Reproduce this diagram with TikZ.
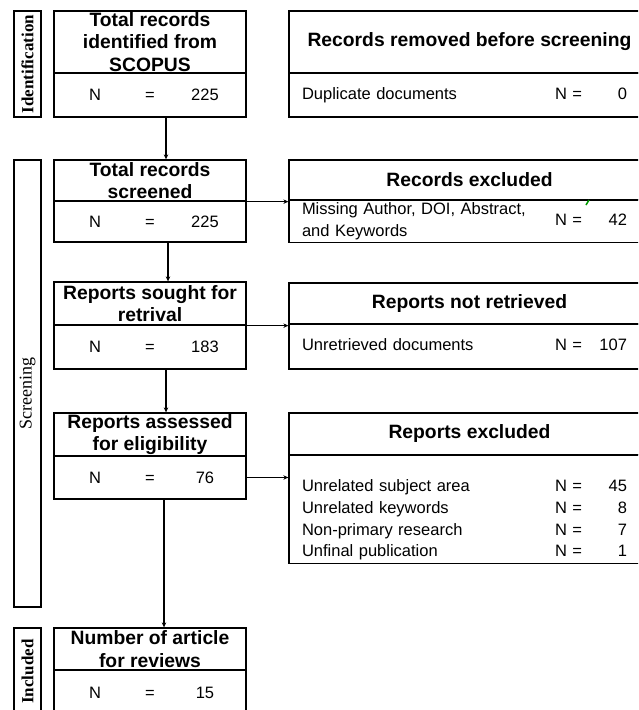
\documentclass[tikz,border=0pt]{standalone}
\usepackage{fontspec}
\setmainfont{Liberation Sans}
\newfontfamily\sidefont{Liberation Serif}
\usepackage{array}
\usetikzlibrary{arrows.meta}
\tikzset{
  titlebox/.style={draw, line width=1.3pt, inner sep=0pt, align=center, font=\fontsize{19.3}{22.5}\selectfont\bfseries},
  countbox/.style={draw, line width=1.3pt, inner sep=0pt, font=\fontsize{16.5}{21.7}\selectfont},
  listbox/.style={countbox, minimum width=361pt, text width=335pt, align=left},
  sidebox/.style={draw, line width=1.3pt, inner sep=0pt, rotate=90, minimum height=27pt, font=\sidefont\fontsize{17}{20}\selectfont},
  flow/.style={line width=1.4pt, -{Stealth[length=5pt,width=4.5pt]}}
}
\newcommand{\countrow}[1]{\makebox[110pt]{\makebox[0pt]{N}\hfill\makebox[0pt]{=}\hfill\makebox[0pt]{#1}}}
\newcommand{\listtab}[1]{\noindent\begin{tabular}{@{}>{\raggedright\arraybackslash}m{253pt}@{}m{30pt}@{}>{\raggedleft\arraybackslash}m{42pt}@{}}#1\end{tabular}}

\begin{document}
\begin{tikzpicture}[x=1pt,y=-1pt]
  \useasboundingbox (0,0) rectangle (638,710);
  \clip (0,0) rectangle (638,710);
  \node[sidebox, minimum width=106pt, font=\sidefont\fontsize{17}{20}\selectfont\bfseries] (idside) at (27.5,64) {Identification};
  \node[sidebox, minimum width=447pt, font=\sidefont\fontsize{18}{20}\selectfont] (scrside) at (27.5,383.5) {Screening\kern20pt};
  \node[sidebox, minimum width=87pt, font=\sidefont\fontsize{17}{20}\selectfont\bfseries] (incside) at (27.5,671.5) {Included};

  \node[titlebox, minimum width=192pt, minimum height=62pt] (t1) at (150,42) {Total records\\identified from\\SCOPUS};
  \node[countbox, minimum width=192pt, minimum height=44pt] (c1) at (150,95) {\countrow{225}};
  \node[titlebox, minimum width=192pt, minimum height=41pt] (t2) at (150,180.5) {Total records\\screened};
  \node[countbox, minimum width=192pt, minimum height=41pt] (c2) at (150,221.5) {\countrow{225}};
  \node[titlebox, minimum width=192pt, minimum height=43pt] (t3) at (150,303.5) {Reports sought for\\retrival};
  \node[countbox, minimum width=192pt, minimum height=44pt] (c3) at (150,347) {\countrow{183}};
  \node[titlebox, minimum width=192pt, minimum height=43pt] (t4) at (150,434.5) {Reports assessed\\for eligibility};
  \node[countbox, minimum width=192pt, minimum height=43pt] (c4) at (150,477.5) {\countrow{76}};
  \node[titlebox, minimum width=192pt, minimum height=42pt] (t5) at (150,649) {Number of article\\for reviews};
  \node[countbox, minimum width=192pt, minimum height=45pt] (c5) at (150,692.5) {\countrow{15}};

  \node[titlebox, minimum width=361pt, minimum height=62pt] (r1t) at (469.5,42) {Records removed before screening};
  \node[listbox, minimum height=44pt] (r1b) at (469.5,95) {\listtab{Duplicate documents & N = & 0}};
  \node[titlebox, minimum width=361pt, minimum height=40pt] (r2t) at (469.5,180) {Records excluded};
  \node[listbox, minimum height=42pt] (r2b) at (469.5,221) {\listtab{Missing Author, DOI, Abstract,\newline and Keywords & N = & 42}};
  \node[titlebox, minimum width=361pt, minimum height=41pt] (r3t) at (469.5,303.5) {Reports not retrieved};
  \node[listbox, minimum height=45pt] (r3b) at (469.5,346.5) {\listtab{Unretrieved documents & N = & 107}};
  \node[titlebox, minimum width=361pt, minimum height=42pt] (r4t) at (469.5,434) {Reports excluded};
  \node[listbox, minimum height=108pt] (r4b) at (469.5,509) {\listtab{\multicolumn{3}{l}{}\\
    Unrelated subject area & N = & 45\\
    Unrelated keywords & N = & 8\\
    Non-primary research & N = & 7\\
    Unfinal publication & N = & 1}};
  \draw[green!60!black, line width=1.5pt] (586,205) -- (589,200);

  \draw[flow] ([xshift=16pt]c1.south) -- ([xshift=16pt]t2.north);
  \draw[flow] (t2.south east) -- (t2.south east -| r2b.west);
  \draw[flow] ([xshift=18pt]c2.south) -- ([xshift=18pt]t3.north);
  \draw[flow] (t3.south east) -- (t3.south east -| r3b.west);
  \draw[flow] ([xshift=16pt]c3.south) -- ([xshift=16pt]t4.north);
  \draw[flow] (c4.east) -- (c4.east -| r4b.west);
  \draw[flow] ([xshift=14pt]c4.south) -- ([xshift=14pt]t5.north);
\end{tikzpicture}
\end{document}
